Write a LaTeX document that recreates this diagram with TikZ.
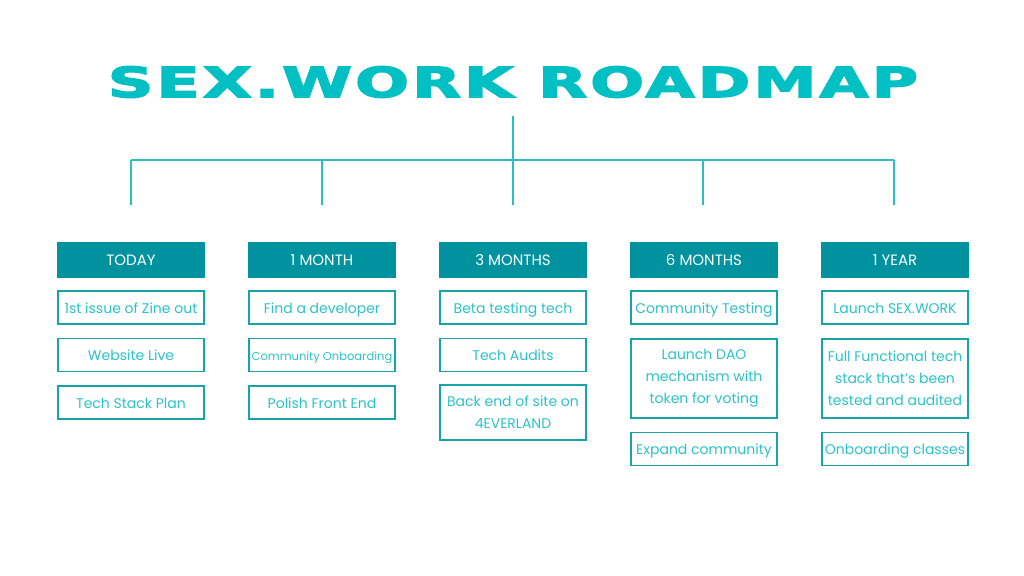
\documentclass[tikz,border=0pt]{standalone}
\usepackage{fontspec}
\setmainfont{Poppins}
\newfontfamily\titlefont[LetterSpace=5,FakeBold=3]{DejaVu Sans}
\usepackage{graphicx}
\usetikzlibrary{positioning}
\definecolor{title}{HTML}{00C0C4}
\definecolor{head}{HTML}{00939F}
\definecolor{edge}{HTML}{17A2AC}
\definecolor{ink}{HTML}{2BC3C9}
\definecolor{wire}{HTML}{2BBFC4}

\begin{document}
\begin{tikzpicture}[x=1pt,y=-1pt,
  phase/.style={fill=head,text=white,minimum width=148pt,minimum height=36pt,
                inner sep=0pt,font=\fontsize{15}{17}\selectfont},
  box/.style={draw=edge,line width=1.6pt,fill=white,text=ink,minimum width=146pt,
              minimum height=33pt,inner sep=1pt,align=center,
              font=\fontsize{14}{22}\selectfont},
  item/.style={box,text height=12.5pt,text depth=1.5pt},
  tall/.style={box,minimum height=79pt},
  wire/.style={draw=wire,line width=1.3pt}]

\useasboundingbox[fill=white] (0,0) rectangle (1024,575);

\node[text=title,inner sep=0pt] (title) at (513,82)
  {\resizebox{810pt}{31pt}{\titlefont\bfseries SEX.WORK ROADMAP}};

% tree
\coordinate (stem) at (513,116);
\coordinate (hub) at (513,160);
\coordinate (hubL) at (131,160);
\coordinate (hubR) at (894,160);
\coordinate (d1) at (131,205);
\coordinate (d2) at (322,205);
\coordinate (d3) at (513,205);
\coordinate (d4) at (703,205);
\coordinate (d5) at (894,205);
\draw[wire] (stem) -- (hub);
\draw[wire] (hubL) -- (hubR);
\draw[wire] (hubL) -- (d1);
\draw[wire] (d2 |- hub) -- (d2);
\draw[wire] (hub) -- (d3);
\draw[wire] (d4 |- hub) -- (d4);
\draw[wire] (hubR) -- (d5);

% phases
\node[phase] (p1) at (131,260) {TODAY};
\node[phase] (p2) at (322,260) {1 MONTH};
\node[phase] (p3) at (513,260) {3 MONTHS};
\node[phase] (p4) at (704,260) {6 MONTHS};
\node[phase] (p5) at (895,260) {1 YEAR};

% today
\node[item] (a1) at (131,307.5) {1st issue of Zine out};
\node[item] (a2) at (131,355) {Website Live};
\node[item] (a3) at (131,402.5) {Tech Stack Plan};

% 1 month
\node[item] (b1) at (322,307.5) {Find a developer};
\node[item,font=\fontsize{11.5}{13}\selectfont] (b2) at (322,355) {Community Onboarding};
\node[item] (b3) at (322,402.5) {Polish Front End};

% 3 months
\node[item] (c1) at (513,307.5) {Beta testing tech};
\node[item] (c2) at (513,355) {Tech Audits};
\node[box,minimum height=55pt] (c3) at (513,412.5) {Back end of site on\\ 4EVERLAND};

% 6 months
\node[item] (e1) at (704,307.5) {Community Testing};
\node[tall] (e2) at (704,378.5) {Launch DAO\\ mechanism with\\ token for voting};
\node[item] (e3) at (704,449) {Expand community};

% 1 year
\node[item] (f1) at (895,307.5) {Launch SEX.WORK};
\node[tall] (f2) at (895,378.5) {Full Functional tech\\ stack that's been\\ tested and audited};
\node[item] (f3) at (895,449) {Onboarding classes};
\end{tikzpicture}
\end{document}
